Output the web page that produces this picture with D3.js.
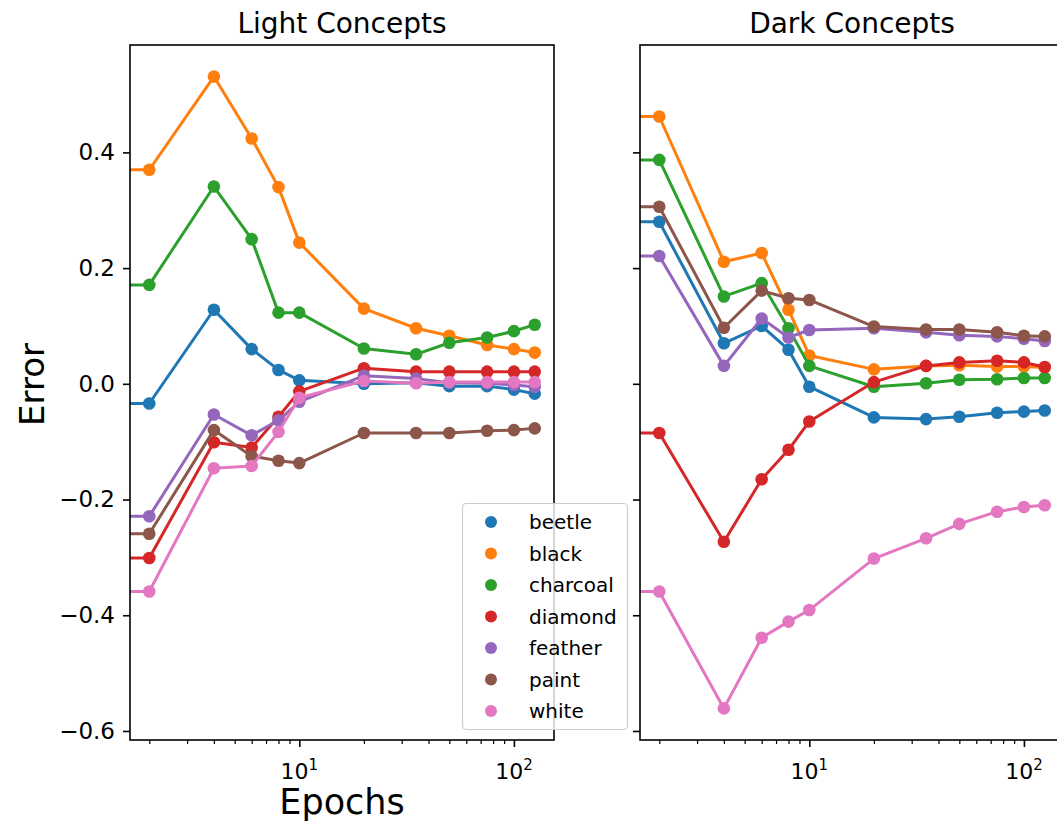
<!DOCTYPE html>
<html>
<head>
<meta charset="utf-8">
<script src="https://cdn.jsdelivr.net/npm/d3@7"></script>
<style>
  html, body { margin: 0; padding: 0; background: #fff; }
  svg { display: block; font-family: "DejaVu Sans", sans-serif; }
</style>
</head>
<body>
<svg id="chart" width="1057" height="823"></svg>
<script>
// ---------- data ----------
const epochs = [2, 4, 6, 8, 10, 20, 35, 50, 75, 100, 125];
const concepts = ["beetle", "black", "charcoal", "diamond", "feather", "paint", "white"];
const colors = ["#1f77b4", "#ff7f0e", "#2ca02c", "#d62728", "#9467bd", "#8c564b", "#e377c2"];
const panelTitles = ["Light Concepts", "Dark Concepts"];
const yTickValues = [-0.6, -0.4, -0.2, 0.0, 0.2, 0.4];
const xTickValues = [10, 100];

const lightBeetle   = [-0.034, 0.128, 0.060, 0.024, 0.006, 0.000, 0.002, -0.004, -0.004, -0.010, -0.017];
const lightBlack    = [0.370, 0.531, 0.424, 0.340, 0.244, 0.130, 0.096, 0.083, 0.067, 0.060, 0.054];
const lightCharcoal = [0.171, 0.341, 0.250, 0.123, 0.123, 0.061, 0.051, 0.071, 0.080, 0.091, 0.102];
const lightDiamond  = [-0.301, -0.101, -0.110, -0.057, -0.013, 0.027, 0.021, 0.021, 0.021, 0.021, 0.021];
const lightFeather  = [-0.229, -0.053, -0.089, -0.063, -0.031, 0.014, 0.009, 0.002, 0.001, -0.002, -0.005];
const lightPaint    = [-0.259, -0.080, -0.125, -0.133, -0.137, -0.085, -0.085, -0.085, -0.081, -0.080, -0.077];
const lightWhite    = [-0.359, -0.146, -0.142, -0.083, -0.024, 0.005, 0.001, 0.003, 0.003, 0.003, 0.003];

const darkBeetle   = [0.280, 0.070, 0.100, 0.059, -0.005, -0.058, -0.061, -0.057, -0.050, -0.048, -0.046];
const darkBlack    = [0.462, 0.211, 0.226, 0.128, 0.049, 0.025, 0.031, 0.032, 0.030, 0.030, 0.028];
const darkCharcoal = [0.387, 0.151, 0.174, 0.096, 0.031, -0.005, 0.001, 0.007, 0.008, 0.010, 0.010];
const darkDiamond  = [-0.085, -0.273, -0.165, -0.114, -0.065, 0.003, 0.031, 0.037, 0.040, 0.037, 0.029];
const darkFeather  = [0.221, 0.031, 0.113, 0.080, 0.093, 0.096, 0.089, 0.084, 0.082, 0.078, 0.074];
const darkPaint    = [0.306, 0.097, 0.161, 0.148, 0.145, 0.099, 0.094, 0.094, 0.089, 0.083, 0.082];
const darkWhite    = [-0.359, -0.561, -0.439, -0.411, -0.391, -0.302, -0.267, -0.242, -0.221, -0.213, -0.210];

const lightSeries = [lightBeetle, lightBlack, lightCharcoal, lightDiamond, lightFeather, lightPaint, lightWhite];
const darkSeries  = [darkBeetle, darkBlack, darkCharcoal, darkDiamond, darkFeather, darkPaint, darkWhite];
const panels = [lightSeries, darkSeries];

// ---------- layout ----------
const svg = d3.select("#chart");
svg.append("rect").attr("width", 1057).attr("height", 823).attr("fill", "#fff");

const axTop = 45, axBottom = 740, axWidth = 424;
const axLefts = [130, 640];

// log x domain with 5% margins (in log space)
const lx0 = Math.log10(d3.min(epochs)), lx1 = Math.log10(d3.max(epochs));
const xm = (lx1 - lx0) * 0.05;
const xDomain = [Math.pow(10, lx0 - xm), Math.pow(10, lx1 + xm)];

// shared y domain with 5% margins
const allVals = lightSeries.concat(darkSeries).flat();
const yMin = d3.min(allVals), yMax = d3.max(allVals);
const ym = (yMax - yMin) * 0.05;
const y = d3.scaleLinear().domain([yMin - ym, yMax + ym]).range([axBottom, axTop]);

const minorTicks = [];
[1, 10, 100].forEach(dec => { for (let k = 2; k <= 9; k++) minorTicks.push(dec * k); });

panels.forEach((series, pi) => {
  const left = axLefts[pi];
  const x = d3.scaleLog().domain(xDomain).range([left, left + axWidth]);
  const g = svg.append("g");

  const clipId = "clip" + pi;
  svg.append("clipPath").attr("id", clipId)
    .append("rect").attr("x", left).attr("y", axTop).attr("width", axWidth).attr("height", axBottom - axTop);

  const plot = g.append("g").attr("clip-path", `url(#${clipId})`);
  const line = d3.line().x(d => x(d[0])).y(d => y(d[1]));

  series.forEach((vals, si) => {
    const pts = epochs.map((e, i) => [e, vals[i]]);
    // leading segment toward the (clipped) origin epoch
    const linePts = [[xDomain[0] / 10, vals[0]]].concat(pts);
    plot.append("path").datum(linePts)
      .attr("d", line).attr("fill", "none")
      .attr("stroke", colors[si]).attr("stroke-width", 3)
      .attr("stroke-linejoin", "round").attr("stroke-linecap", "round");
    plot.selectAll(null).data(pts).enter().append("circle")
      .attr("cx", d => x(d[0])).attr("cy", d => y(d[1]))
      .attr("r", 6.3).attr("fill", colors[si]);
  });

  // x axis
  const xAxis = d3.axisBottom(x).tickValues(xTickValues).tickSize(7).tickPadding(0).tickFormat("");
  const xg = g.append("g").attr("transform", `translate(0,${axBottom})`).call(xAxis);
  xg.select(".domain").remove();
  xg.selectAll("line").attr("stroke", "#000").attr("stroke-width", 1.6);
  const xMinor = d3.axisBottom(x).tickValues(minorTicks.filter(v => v >= xDomain[0] && v <= xDomain[1]))
    .tickSize(4).tickFormat("");
  const xmg = g.append("g").attr("transform", `translate(0,${axBottom})`).call(xMinor);
  xmg.select(".domain").remove();
  xmg.selectAll("line").attr("stroke", "#000").attr("stroke-width", 1.2);

  xTickValues.forEach(v => {
    const t = g.append("text").attr("x", x(v)).attr("y", 779)
      .attr("text-anchor", "middle").attr("font-size", 22).attr("fill", "#000");
    t.append("tspan").text("10");
    t.append("tspan").attr("dy", -9).attr("font-size", 15).text(String(Math.round(Math.log10(v))));
  });

  // y axis
  const yAxis = d3.axisLeft(y).tickValues(yTickValues).tickSize(7).tickPadding(8)
    .tickFormat(d => pi === 0 ? d3.format(".1f")(d).replace("-", "\u2212") : "");
  const yg = g.append("g").attr("transform", `translate(${left},0)`).call(yAxis);
  yg.select(".domain").remove();
  yg.selectAll("line").attr("stroke", "#000").attr("stroke-width", 1.6);
  yg.selectAll("text").attr("font-size", 23).attr("font-family", "DejaVu Sans, sans-serif").attr("fill", "#000");

  // spines
  g.append("rect").attr("x", left).attr("y", axTop).attr("width", axWidth).attr("height", axBottom - axTop)
    .attr("fill", "none").attr("stroke", "#000").attr("stroke-width", 1.6);

  // title
  g.append("text").attr("x", left + axWidth / 2).attr("y", 33)
    .attr("text-anchor", "middle").attr("font-size", 28).attr("fill", "#000").text(panelTitles[pi]);
});

// axis labels
svg.append("text").attr("x", 130 + axWidth / 2).attr("y", 814).attr("text-anchor", "middle")
  .attr("font-size", 35).attr("fill", "#000").text("Epochs");
svg.append("text").attr("transform", `translate(44,${(axTop + axBottom) / 2 - 8}) rotate(-90)`)
  .attr("text-anchor", "middle").attr("font-size", 34).attr("fill", "#000").text("Error");

// legend
const lg = svg.append("g");
lg.append("rect").attr("x", 462.5).attr("y", 503.5).attr("width", 165).attr("height", 226).attr("rx", 4)
  .attr("fill", "#fff").attr("fill-opacity", 0.8).attr("stroke", "#ccc").attr("stroke-width", 1.2);
concepts.forEach((c, i) => {
  const cy = 522 + i * 31.5;
  lg.append("circle").attr("cx", 491).attr("cy", cy).attr("r", 6).attr("fill", colors[i]);
  lg.append("text").attr("x", 529).attr("y", cy).attr("dy", "0.35em")
    .attr("font-size", 20).attr("fill", "#000").text(c);
});
</script>
</body>
</html>
